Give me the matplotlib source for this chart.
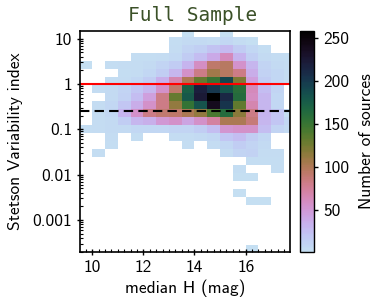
import numpy as np
import matplotlib
matplotlib.use('Agg')
import matplotlib.pyplot as plt
from matplotlib.colors import ListedColormap
from matplotlib.ticker import FixedLocator, FixedFormatter, MultipleLocator, LogLocator, NullFormatter

# ---- data ----
mag_edges = [9.5, 10.0, 10.5, 11.0, 11.5, 12.0, 12.5, 13.0, 13.5, 14.0, 14.5,
             15.0, 15.5, 16.0, 16.5, 17.0, 17.5, 18.0]
log_index_edges = [-3.731, -3.554, -3.377, -3.201, -3.024, -2.848, -2.671, -2.494,
                   -2.318, -2.141, -1.965, -1.788, -1.611, -1.435, -1.258, -1.082,
                   -0.905, -0.728, -0.552, -0.375, -0.199, -0.022, 0.155, 0.331,
                   0.508, 0.685, 0.861, 1.038, 1.214]
# counts, top row (highest index) first; 17 magnitude bins per row
counts_top_down = [
    [0, 0, 0, 0, 0, 0, 0, 0, 2, 0, 0, 2, 0, 0, 0, 0, 0],
    [0, 0, 0, 0, 0, 0, 0, 3, 6, 6, 5, 8, 5, 2, 0, 0, 0],
    [0, 0, 0, 0, 0, 0, 0, 4, 10, 14, 22, 28, 16, 8, 3, 0, 0],
    [0, 0, 0, 0, 3, 3, 4, 7, 16, 26, 38, 62, 32, 14, 6, 4, 3],
    [2, 0, 3, 4, 5, 6, 10, 16, 32, 58, 92, 96, 55, 30, 10, 6, 4],
    [0, 0, 0, 3, 5, 8, 15, 30, 56, 82, 106, 96, 82, 36, 12, 8, 5],
    [0, 0, 3, 5, 8, 15, 35, 66, 100, 130, 150, 190, 120, 46, 15, 8, 5],
    [0, 4, 6, 10, 20, 30, 56, 92, 172, 218, 200, 182, 158, 62, 26, 10, 0],
    [0, 0, 6, 12, 25, 45, 82, 130, 178, 222, 258, 212, 162, 60, 30, 8, 0],
    [0, 5, 8, 20, 36, 56, 82, 112, 152, 182, 238, 202, 132, 66, 30, 8, 0],
    [0, 5, 8, 32, 56, 82, 90, 92, 102, 112, 142, 162, 116, 82, 32, 20, 3],
    [0, 5, 6, 15, 30, 35, 50, 56, 42, 56, 72, 102, 102, 86, 30, 20, 8],
    [3, 5, 6, 6, 8, 8, 8, 10, 10, 15, 25, 52, 56, 56, 25, 10, 6],
    [0, 0, 4, 0, 3, 0, 0, 4, 5, 6, 8, 20, 25, 15, 8, 0, 0],
    [0, 0, 3, 0, 0, 0, 0, 0, 3, 0, 4, 8, 15, 10, 6, 0, 0],
    [0, 3, 0, 0, 0, 0, 0, 0, 0, 0, 0, 5, 10, 12, 4, 5, 0],
    [0, 0, 0, 0, 0, 0, 0, 0, 0, 0, 0, 0, 0, 3, 3, 3, 0],
    [0, 0, 0, 0, 0, 0, 0, 0, 0, 0, 0, 0, 3, 0, 0, 3, 0],
    [0, 0, 0, 0, 0, 0, 0, 0, 0, 0, 0, 0, 2, 2, 0, 0, 0],
    [0, 0, 0, 0, 0, 0, 0, 0, 0, 0, 0, 0, 0, 0, 0, 0, 0],
    [0, 0, 0, 0, 0, 0, 0, 0, 0, 0, 0, 0, 2, 0, 0, 0, 0],
    [0, 0, 0, 0, 0, 0, 0, 0, 0, 0, 0, 0, 0, 2, 2, 0, 0],
    [0, 0, 0, 0, 0, 0, 0, 0, 0, 0, 0, 0, 0, 0, 0, 0, 0],
    [0, 0, 0, 0, 0, 0, 0, 0, 0, 0, 0, 0, 0, 0, 0, 0, 0],
    [0, 0, 0, 0, 0, 0, 0, 0, 0, 0, 0, 0, 0, 0, 0, 0, 0],
    [0, 0, 0, 0, 0, 0, 0, 0, 0, 0, 0, 0, 0, 0, 0, 0, 0],
    [0, 0, 0, 0, 0, 0, 0, 0, 0, 0, 0, 0, 0, 0, 0, 0, 0],
    [0, 0, 0, 0, 0, 0, 0, 0, 0, 0, 0, 0, 0, 1, 0, 0, 0],
]
variable_threshold = 1.0
dashed_threshold = 0.25
y_ticks = [0.001, 0.01, 0.1, 1, 10]
y_tick_labels = ['0.001', '0.01', '0.1', '1', '10']
x_ticks = [10, 12, 14, 16]
cbar_ticks = [50, 100, 150, 200, 250]

# ---- figure ----
plt.rcParams['font.family'] = ['cmss10', 'DejaVu Sans']
plt.rcParams['axes.unicode_minus'] = False
FS = 12.5

fig = plt.figure(figsize=(3.8, 3.0), dpi=100)
ax = fig.add_axes([0.2113, 0.161, 0.552, 0.7367])
cax = fig.add_axes([0.7895, 0.161, 0.0368, 0.7367])

base = plt.get_cmap('cubehelix')
cmap = ListedColormap(base(np.linspace(0.85, 0.0, 256)))

counts = np.array(counts_top_down[::-1], dtype=float)
counts = np.ma.masked_where(counts <= 0, counts)
yedges = 10 ** np.array(log_index_edges)
mesh = ax.pcolormesh(mag_edges, yedges, counts, cmap=cmap, vmin=1, vmax=258)

ax.axhline(variable_threshold, color='red', lw=1.5)
ax.axhline(dashed_threshold, color='black', lw=1.5, ls=(0, (4.5, 2.5)))

ax.set_yscale('log')
ax.set_xlim(9.53, 17.74)
ax.set_ylim(2.0e-4, 15.0)

ax.yaxis.set_major_locator(FixedLocator(y_ticks))
ax.yaxis.set_major_formatter(FixedFormatter(y_tick_labels))
ax.yaxis.set_minor_locator(LogLocator(base=10, subs=np.arange(2, 10)))
ax.yaxis.set_minor_formatter(NullFormatter())
ax.xaxis.set_major_locator(FixedLocator(x_ticks))
ax.xaxis.set_minor_locator(MultipleLocator(0.25))

ax.tick_params(which='major', direction='inout', length=5, width=1, labelsize=FS,
               top=False, right=False)
ax.tick_params(which='minor', direction='in', length=2.5, width=0.8, top=False, right=False)
for s in ax.spines.values():
    s.set_linewidth(1.2)

ax.set_xlabel('median H (mag)', fontsize=FS, labelpad=3)
ax.set_ylabel('Stetson Variability index', fontsize=FS, labelpad=7)

cb = fig.colorbar(mesh, cax=cax, ticks=cbar_ticks)
cb.ax.tick_params(labelsize=FS, length=3, width=1)
cb.set_label('Number of sources', fontsize=FS, labelpad=7)
cb.outline.set_linewidth(1.0)

fig.text(0.508, 0.948, 'Full Sample', family='DejaVu Sans Mono', color='#3b5128',
         fontsize=14, ha='center', va='center')

fig.savefig('out.png', dpi=100)
